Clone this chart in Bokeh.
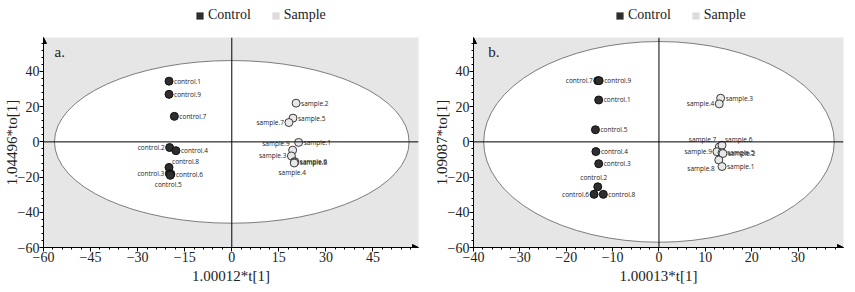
from bokeh.plotting import figure
from bokeh.layouts import row, column
from bokeh.models import (ColumnDataSource, Span, Arrow, NormalHead, Legend,
                          LegendItem, FixedTicker, Label)
from bokeh.core.properties import value
from bokeh.embed import file_html
from bokeh.resources import INLINE

# ---------------- data ----------------
LEGEND_LABELS = ["Control", "Sample"]

A_CTRL_NAMES = ["control.1", "control.9", "control.7", "control.2", "control.4",
                "control.8", "control.3", "control.6", "control.5"]
A_CTRL_X = [-20.0, -20.0, -18.3, -19.8, -17.8, -20.0, -19.9, -19.4, -19.6]
A_CTRL_Y = [34.5, 27.0, 14.5, -3.2, -5.0, -14.5, -18.0, -18.3, -19.0]

A_SAMP_NAMES = ["sample.2", "sample.5", "sample.7", "sample.1", "sample.9",
                "sample.3", "sample.6", "sample.8", "sample.4"]
A_SAMP_X = [20.5, 19.5, 18.2, 21.3, 19.4, 19.0, 20.0, 20.1, 19.9]
A_SAMP_Y = [22.0, 13.5, 11.0, -0.3, -4.7, -8.0, -11.2, -11.5, -12.0]

B_CTRL_NAMES = ["control.7", "control.9", "control.1", "control.5", "control.4",
                "control.3", "control.2", "control.6", "control.8"]
B_CTRL_X = [-13.2, -12.9, -13.0, -13.7, -13.6, -13.0, -13.2, -14.0, -12.0]
B_CTRL_Y = [34.8, 34.8, 23.8, 6.9, -5.5, -12.4, -25.5, -29.8, -29.8]

B_SAMP_NAMES = ["sample.3", "sample.4", "sample.7", "sample.6", "sample.9",
                "sample.5", "sample.2", "sample.8", "sample.1"]
B_SAMP_X = [13.3, 13.0, 13.0, 13.6, 12.5, 13.6, 13.8, 12.9, 13.6]
B_SAMP_Y = [24.8, 21.6, -2.9, -1.9, -5.6, -6.2, -6.6, -10.3, -14.0]

A_X_TICKS = [-60, -45, -30, -15, 0, 15, 30, 45]
B_X_TICKS = [-40, -30, -20, -10, 0, 10, 20, 30]
Y_TICKS = [-60, -40, -20, 0, 20, 40]

A_XLABEL, A_YLABEL, A_TAG = "1.00012*t[1]", "1.04496*to[1]", "a."
B_XLABEL, B_YLABEL, B_TAG = "1.00013*t[1]", "1.09087*to[1]", "b."

# Hotelling ellipse semi-axes (t, to)
A_ELLIPSE = (56.5, 46.2)
B_ELLIPSE = (37.8, 57.0)

# ---------------- label placement (styling) ----------------
PLACE = {
    "r": (5, 0, "left", "middle"),
    "l": (-5, 0, "right", "middle"),
    "ar": (3, -6, "left", "middle"),
    "al": (-3, -7, "right", "middle"),
    "a": (-4, -9, "center", "middle"),
    "b": (-2, 9, "center", "middle"),
    "bl": (-4, 8, "right", "middle"),
}
A_CTRL_PLACE = ["r", "r", "r", "l", "r", "ar", "l", "r", "b"]
A_SAMP_PLACE = ["r", "r", "l", "r", "al", "l", "r", "r", "b"]
B_CTRL_PLACE = ["l", "r", "r", "r", "r", "r", "a", "l", "r"]
B_SAMP_PLACE = ["r", "l", "al", "ar", "l", "r", "r", "bl", "r"]

# ---------------- styles ----------------
BG = "#e6e6e6"
CTRL_FILL, CTRL_LINE = "#2e2e2e", "#111111"
SAMP_FILL, SAMP_LINE = "#e8e8e8", "#3a3a3a"
LEG_SAMP = "#dcdcdc"
SERIF = "Liberation Serif"
SANS = "Open Sans"
LEG_H = 30
MAIN_H = 292 - LEG_H


def src(names, xs, ys, places):
    dx = [PLACE[c][0] for c in places]
    dy = [PLACE[c][1] for c in places]
    al = [PLACE[c][2] for c in places]
    bl = [PLACE[c][3] for c in places]
    return ColumnDataSource(dict(x=xs, y=ys, name=names, dx=dx, dy=dy,
                                 align=al, base=bl))


def minus(t):
    return str(t).replace("-", "\u2212")


def legend_fig(width, leg_x):
    f = figure(width=width, height=LEG_H, x_range=(0, 1), y_range=(0, 1),
               output_backend="svg", toolbar_location=None,
               min_border=0, min_border_left=0, min_border_right=0,
               min_border_top=0, min_border_bottom=0)
    f.axis.visible = False
    f.grid.visible = False
    f.outline_line_color = None
    f.background_fill_color = "white"
    # swatch renderers kept outside the visible range; only their legend glyphs show
    r1 = f.rect(x=[5], y=[5], width=1, height=1, fill_color=CTRL_FILL, line_color=None)
    r2 = f.rect(x=[5], y=[5], width=1, height=1, fill_color=LEG_SAMP, line_color=None)
    leg = Legend(items=[LegendItem(label=LEGEND_LABELS[0], renderers=[r1]),
                        LegendItem(label=LEGEND_LABELS[1], renderers=[r2])],
                 orientation="horizontal", location=(leg_x, 7),
                 border_line_color=None, background_fill_alpha=0,
                 padding=0, margin=0, spacing=20, label_standoff=4,
                 glyph_width=9, glyph_height=9, label_height=14,
                 label_text_font=SERIF, label_text_font_size="14px",
                 label_text_color="#222222")
    f.add_layout(leg)
    return f


def panel(width, xr, xticks, xminor, ell, xlabel, ylabel, tag, tagpos,
          ctrl, samp, border_left, border_right):
    p = figure(width=width, height=MAIN_H, x_range=xr, y_range=(-60, 59.3),
               output_backend="svg", toolbar_location=None,
               min_border_left=border_left, min_border_right=border_right,
               min_border_top=7, min_border_bottom=45)
    p.background_fill_color = BG
    p.border_fill_color = "white"
    p.outline_line_color = None
    p.grid.visible = False

    p.ellipse(x=[0], y=[0], width=[2 * ell[0]], height=[2 * ell[1]],
              fill_color="white", line_color="#5e5e5e", line_width=0.8)
    p.add_layout(Span(location=0, dimension="width", line_color="black", line_width=1))
    p.add_layout(Span(location=0, dimension="height", line_color="black", line_width=1))

    for s, fill, line in ((ctrl, CTRL_FILL, CTRL_LINE), (samp, SAMP_FILL, SAMP_LINE)):
        p.scatter(x="x", y="y", source=s, size=8, fill_color=fill,
                  line_color=line, line_width=1)
    for s in (ctrl, samp):
        p.text(x="x", y="y", text="name", source=s, x_offset="dx", y_offset="dy",
               text_align="align", text_baseline="base",
               text_font=value(SANS), text_font_size="6.5px", text_color="#222222")

    # axes
    for ax, ticks, minor in ((p.xaxis[0], xticks, xminor),
                             (p.yaxis[0], Y_TICKS, list(range(-60, 60, 4)))):
        ax.ticker = FixedTicker(ticks=ticks, minor_ticks=minor)
        ax.major_label_overrides = {t: minus(t) for t in ticks}
        ax.axis_line_color = "black"
        ax.major_tick_line_color = "black"
        ax.minor_tick_line_color = "black"
        ax.major_tick_out = 4
        ax.major_tick_in = 0
        ax.minor_tick_out = 2
        ax.minor_tick_in = 0
        ax.major_label_standoff = 0
        ax.major_label_text_font = SERIF
        ax.major_label_text_font_size = "14px"
        ax.major_label_text_color = "#222222"
        ax.axis_label_text_font = SERIF
        ax.axis_label_text_font_size = "15px"
        ax.axis_label_text_font_style = "normal"
        ax.axis_label_text_color = "#222222"
    p.yaxis.axis_label_standoff = -5
    p.xaxis.axis_label_standoff = 3
    p.xaxis.axis_label = xlabel
    p.yaxis.axis_label = ylabel

    # arrows at axis ends
    x0, x1 = xr
    p.add_layout(Arrow(end=NormalHead(size=6, fill_color="black", line_color="black"),
                       x_start=x0, y_start=54, x_end=x0, y_end=59.3,
                       line_color="black", line_width=1))
    p.add_layout(Arrow(end=NormalHead(size=6, fill_color="black", line_color="black"),
                       x_start=x1 - 3, y_start=-60, x_end=x1, y_end=-60,
                       line_color="black", line_width=1))

    p.add_layout(Label(x=tagpos[0], y=tagpos[1], text=tag, text_font=SERIF,
                       text_font_size="15px", text_baseline="middle",
                       text_color="#222222"))
    return p


pa = panel(427, (-60, 59.5), A_X_TICKS, list(range(-60, 60, 3)), A_ELLIPSE,
           A_XLABEL, A_YLABEL, A_TAG, (-56.5, 51),
           src(A_CTRL_NAMES, A_CTRL_X, A_CTRL_Y, A_CTRL_PLACE),
           src(A_SAMP_NAMES, A_SAMP_X, A_SAMP_Y, A_SAMP_PLACE), 43, 9)
pb = panel(428, (-40, 39.8), B_X_TICKS, list(range(-40, 40, 2)), B_ELLIPSE,
           B_XLABEL, B_YLABEL, B_TAG, (-36.8, 51),
           src(B_CTRL_NAMES, B_CTRL_X, B_CTRL_Y, B_CTRL_PLACE),
           src(B_SAMP_NAMES, B_SAMP_X, B_SAMP_Y, B_SAMP_PLACE), 46, 12)

la = legend_fig(427, 195)
lb = legend_fig(428, 188)

layout = column(row(la, lb), row(pa, pb))
open("out.html", "w").write(file_html(layout, INLINE))
